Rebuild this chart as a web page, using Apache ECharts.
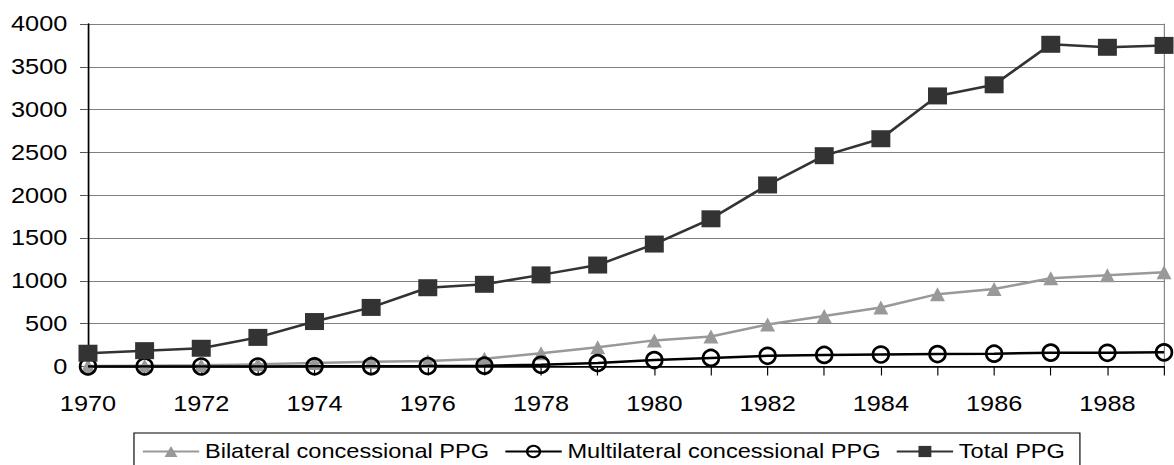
<!DOCTYPE html>
<html>
<head>
<meta charset="utf-8">
<script src="https://cdn.jsdelivr.net/npm/echarts@6/dist/echarts.min.js"></script>
<style>
html,body{margin:0;padding:0;background:#fff;overflow:hidden;}
#chart{width:1021px;height:465px;transform:scaleX(1.15);transform-origin:0 0;}
</style>
</head>
<body>
<div id="chart"></div>
<script>
const years = ['1970','1971','1972','1973','1974','1975','1976','1977','1978','1979','1980','1981','1982','1983','1984','1985','1986','1987','1988','1989'];
const bilateral = [5, 10, 15, 25, 40, 55, 65, 90, 155, 225, 305, 350, 490, 590, 690, 845, 905, 1030, 1065, 1100];
const multilateral = [0, 0, 0, 0, 2, 4, 6, 10, 20, 40, 75, 100, 125, 135, 140, 145, 150, 162, 160, 165];
const total = [155, 185, 213, 340, 525, 690, 920, 960, 1070, 1185, 1430, 1725, 2120, 2462, 2660, 3160, 3290, 3763, 3728, 3750];
const seriesNames = ['Bilateral concessional PPG', 'Multilateral concessional PPG', 'Total PPG'];

const chart = echarts.init(document.getElementById('chart'), null, {renderer: 'svg'});
chart.setOption({
  animation: false,
  backgroundColor: '#fff',
  textStyle: {fontFamily: 'Liberation Sans, Arial, sans-serif', color: '#000'},
  grid: {left: 76.5, right: 8.8, top: 24, bottom: 98.5, containLabel: false},
  legend: {
    data: seriesNames,
    left: 116.5,
    top: 433,
    orient: 'horizontal',
    itemWidth: 49,
    itemHeight: 14,
    itemGap: 13,
    padding: [8, 13, 12, 6.7],
    borderColor: '#000',
    borderWidth: 1,
    textStyle: {fontSize: 20.5, color: '#000', fontFamily: 'Liberation Sans, Arial, sans-serif'}
  },
  xAxis: [{
    type: 'category',
    data: years,
    boundaryGap: false,
    axisLine: {lineStyle: {color: '#000', width: 1.5}},
    axisTick: {show: true, interval: 0, length: 9, lineStyle: {color: '#000', width: 1}},
    axisLabel: {interval: 1, fontSize: 22, color: '#000', margin: 26},
    splitLine: {show: false}
  }, {
    type: 'category',
    data: years,
    position: 'top',
    boundaryGap: false,
    axisLine: {show: true, lineStyle: {color: '#000', width: 1.2}},
    axisTick: {show: false},
    axisLabel: {show: false}
  }],
  yAxis: [{
    type: 'value',
    min: 0, max: 4000, interval: 500,
    axisLine: {show: true, lineStyle: {color: '#000', width: 1.5}},
    axisTick: {show: true, length: 7, lineStyle: {color: '#555'}},
    axisLabel: {fontSize: 22, color: '#000', margin: 18, formatter: function (v) { return String(v); }},
    splitLine: {show: true, lineStyle: {color: '#808080', width: 1}}
  }, {
    type: 'value',
    position: 'right',
    min: 0, max: 4000, interval: 500,
    axisLine: {show: true, lineStyle: {color: '#808080', width: 1}},
    axisTick: {show: false},
    axisLabel: {show: false},
    splitLine: {show: false}
  }],
  series: [{
    name: seriesNames[0],
    type: 'line',
    data: bilateral,
    symbol: 'triangle',
    symbolSize: [13, 14],
    lineStyle: {color: '#999999', width: 2.5},
    itemStyle: {color: '#999999'},
    z: 2
  }, {
    name: seriesNames[1],
    type: 'line',
    data: multilateral,
    symbol: 'circle',
    symbolSize: [13.7, 15.8],
    lineStyle: {color: '#000', width: 2.5},
    itemStyle: {color: 'rgba(0,0,0,0)', borderColor: '#000', borderWidth: 2.5},
    z: 3
  }, {
    name: seriesNames[2],
    type: 'line',
    data: total,
    symbol: 'rect',
    symbolSize: [16.5, 17],
    lineStyle: {color: '#333333', width: 2.5},
    itemStyle: {color: '#333333'},
    z: 4
  }]
});
</script>
</body>
</html>
